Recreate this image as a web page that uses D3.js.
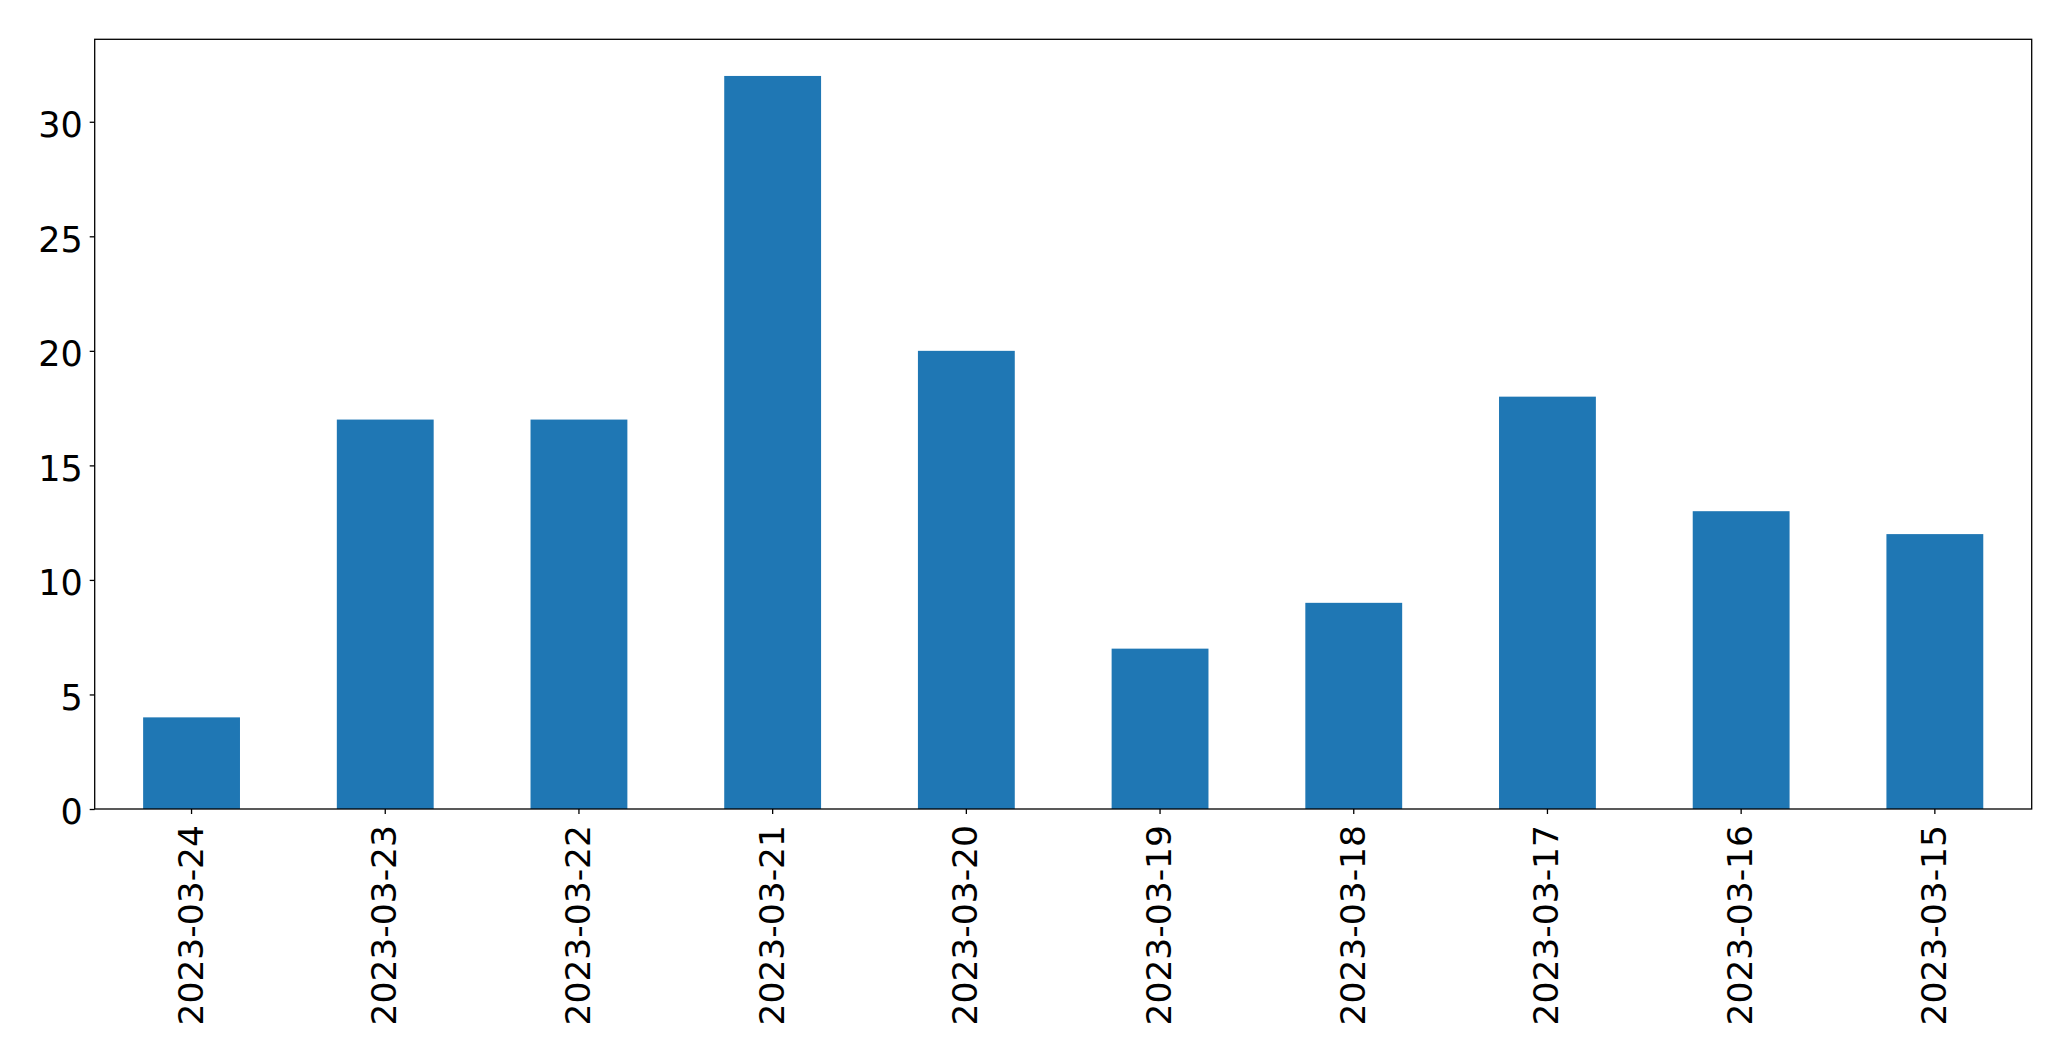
<!DOCTYPE html>
<html>
<head>
<meta charset="utf-8">
<script src="https://cdn.jsdelivr.net/npm/d3@7"></script>
<style>
  html, body { margin: 0; padding: 0; background: #fff; }
  svg { display: block; }
</style>
</head>
<body>
<script>
const categories = ["2023-03-24","2023-03-23","2023-03-22","2023-03-21","2023-03-20","2023-03-19","2023-03-18","2023-03-17","2023-03-16","2023-03-15"];
const values = [4, 17, 17, 32, 20, 7, 9, 18, 13, 12];
const yTicks = [0, 5, 10, 15, 20, 25, 30];

const W = 2071, H = 1061;
const mLeft = 94.7, mRight = 2031.7, mTop = 39.3, mBottom = 809;

const svg = d3.select("body").append("svg").attr("width", W).attr("height", H);

const x = d3.scaleBand().domain(categories).range([mLeft, mRight]).paddingInner(0.5).paddingOuter(0.25);
const y = d3.scaleLinear().domain([0, d3.max(values) * 1.05]).range([mBottom, mTop]);

svg.append("g").selectAll("rect").data(values).join("rect")
  .attr("x", (d, i) => x(categories[i]))
  .attr("y", d => y(d))
  .attr("width", x.bandwidth())
  .attr("height", d => y(0) - y(d))
  .attr("fill", "#1f77b4");

const font = "'DejaVu Sans', sans-serif";

const yAxis = svg.append("g").attr("transform", `translate(${mLeft},0)`)
  .call(d3.axisLeft(y).tickValues(yTicks).tickSize(5).tickPadding(7).tickFormat(d3.format("d")));
yAxis.select(".domain").remove();
yAxis.selectAll("line").attr("stroke", "#000").attr("stroke-width", 1.3);
yAxis.selectAll("text").attr("font-family", font).attr("font-size", 35).attr("fill", "#000").attr("dy", "0.42em");

const xAxis = svg.append("g").attr("transform", `translate(0,${mBottom})`)
  .call(d3.axisBottom(x).tickSize(5).tickPadding(0));
xAxis.select(".domain").remove();
xAxis.selectAll("line").attr("stroke", "#000").attr("stroke-width", 1.3);
xAxis.selectAll("text")
  .attr("font-family", font).attr("font-size", 34.5).attr("fill", "#000")
  .attr("transform", "translate(0,16) rotate(-90)")
  .attr("text-anchor", "end").attr("dy", "0.32em").attr("x", 0).attr("y", 0);

svg.append("rect")
  .attr("x", mLeft).attr("y", mTop).attr("width", mRight - mLeft).attr("height", mBottom - mTop)
  .attr("fill", "none").attr("stroke", "#000").attr("stroke-width", 1.3);
</script>
</body>
</html>
